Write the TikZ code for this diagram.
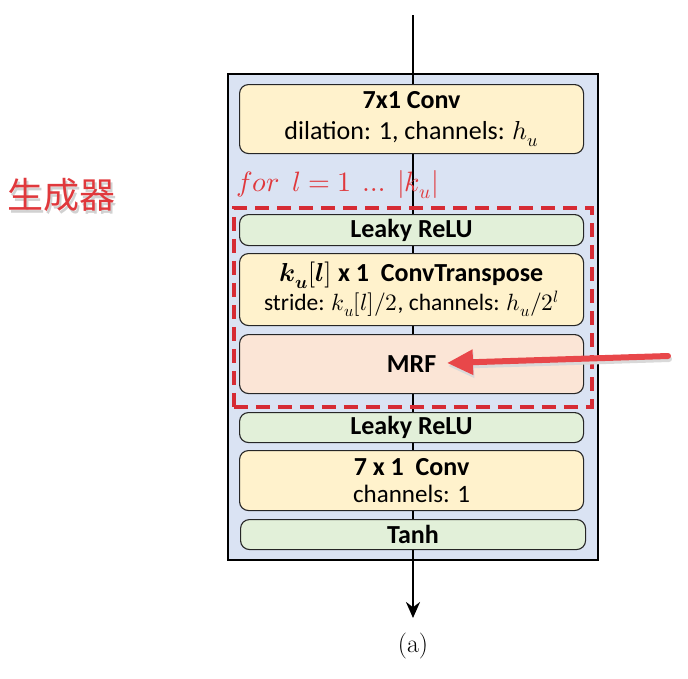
\documentclass[tikz,border=0pt]{standalone}
\usepackage{fontspec}
\setmainfont{Carlito}
\newfontfamily\cjk{Noto Sans CJK SC}
\newfontfamily\lmserif{Latin Modern Roman}
\usepackage{unicode-math}
\setmathfont{Latin Modern Math}
\usetikzlibrary{arrows.meta}
\definecolor{outerblue}{HTML}{DAE3F3}
\definecolor{boxyellow}{HTML}{FFF2CC}
\definecolor{boxgreen}{HTML}{E2F0D9}
\definecolor{boxpeach}{HTML}{FBE5D6}
\definecolor{dashred}{HTML}{D62B34}
\definecolor{txtred}{HTML}{E0383C}
\definecolor{arrred}{HTML}{E8474A}
\tikzset{
  layer/.style={draw=black!85, line width=1.1pt, rounded corners=9pt, minimum width=344pt, anchor=north west, inner sep=0pt, align=center, font=\fontsize{26}{31}\selectfont},
  yel/.style={layer, fill=boxyellow},
  grn/.style={layer, fill=boxgreen},
  pch/.style={layer, fill=boxpeach},
}
\begin{document}
\begin{tikzpicture}[x=1pt,y=-1pt]
\useasboundingbox (0,0) rectangle (688,678);
% outer box
\node[draw=black, line width=2.2pt, fill=outerblue, anchor=north west, minimum width=370pt, minimum height=486pt, inner sep=0pt] (outer) at (227,73) {};
% flow line
\coordinate (top) at (413,15);
\coordinate (bot) at (413,618);
\draw[line width=2.2pt, -{Stealth[length=16pt,width=14pt]}] (top) -- (bot);
% layers
\node[yel, minimum height=69pt] (conv1) at (239,84) {\textbf{7x1 Conv}\\ dilation: 1, channels: $h_u$};
\node[text=txtred, anchor=west, inner sep=0pt, font=\fontsize{28}{32}\selectfont] (forl) at (236,185) {$for\ \ l=1\ \ldots\ |k_u|$};
\node[grn, minimum height=31pt] (lr1) at (239,214) {\textbf{Leaky ReLU}};
\node[yel, minimum height=72pt, font=\fontsize{23.5}{28}\selectfont] (convt) at (239,253) {{\fontsize{26}{28}\selectfont\bfseries $\symbfit{k_u}[\symbfit{l}]$ x 1\ \ ConvTranspose}\\[1pt] stride: $k_u[l]/2$, channels: $h_u/2^l$};
\node[pch, minimum height=59pt] (mrf) at (239,334) {\textbf{MRF}};
\node[draw=dashred, line width=3.5pt, dash pattern=on 14pt off 8pt, anchor=north west, minimum width=358pt, minimum height=199pt, inner sep=0pt] (loop) at (232,206) {};
\node[grn, minimum height=30pt] (lr2) at (239,412) {\textbf{Leaky ReLU}};
\node[yel, minimum height=60pt, font=\fontsize{25}{27}\selectfont] (conv2) at (239,450) {{\fontsize{26}{27}\selectfont\bfseries 7 x 1\ \ Conv}\\ channels: 1};
\node[grn, minimum height=30pt, minimum width=345pt] (tanh) at (240,519) {\textbf{Tanh}};
% red arrow
\coordinate (arrstart) at (668,356);
\coordinate (arrstartsh) at (669,359);
\coordinate (arrend) at (447,363);
\coordinate (arrendsh) at (448,366);
\draw[line width=6pt, black!15, line cap=round, -{Triangle[length=26pt,width=24pt]}] (arrstartsh) -- (arrendsh);
\draw[line width=6pt, arrred, line cap=round, -{Triangle[length=26pt,width=24pt]}] (arrstart) -- (arrend);
% Chinese label
\node[text=black!18, font=\cjk\fontsize{36}{40}\selectfont] (genshadow) at (63.5,197.5) {生成器};
\node[text=txtred, font=\cjk\fontsize{36}{40}\selectfont] (gen) at (62,195) {生成器};
% caption
\node[font=\lmserif\fontsize{26}{30}\selectfont] (cap) at (413,646) {(a)};
\end{tikzpicture}
\end{document}
